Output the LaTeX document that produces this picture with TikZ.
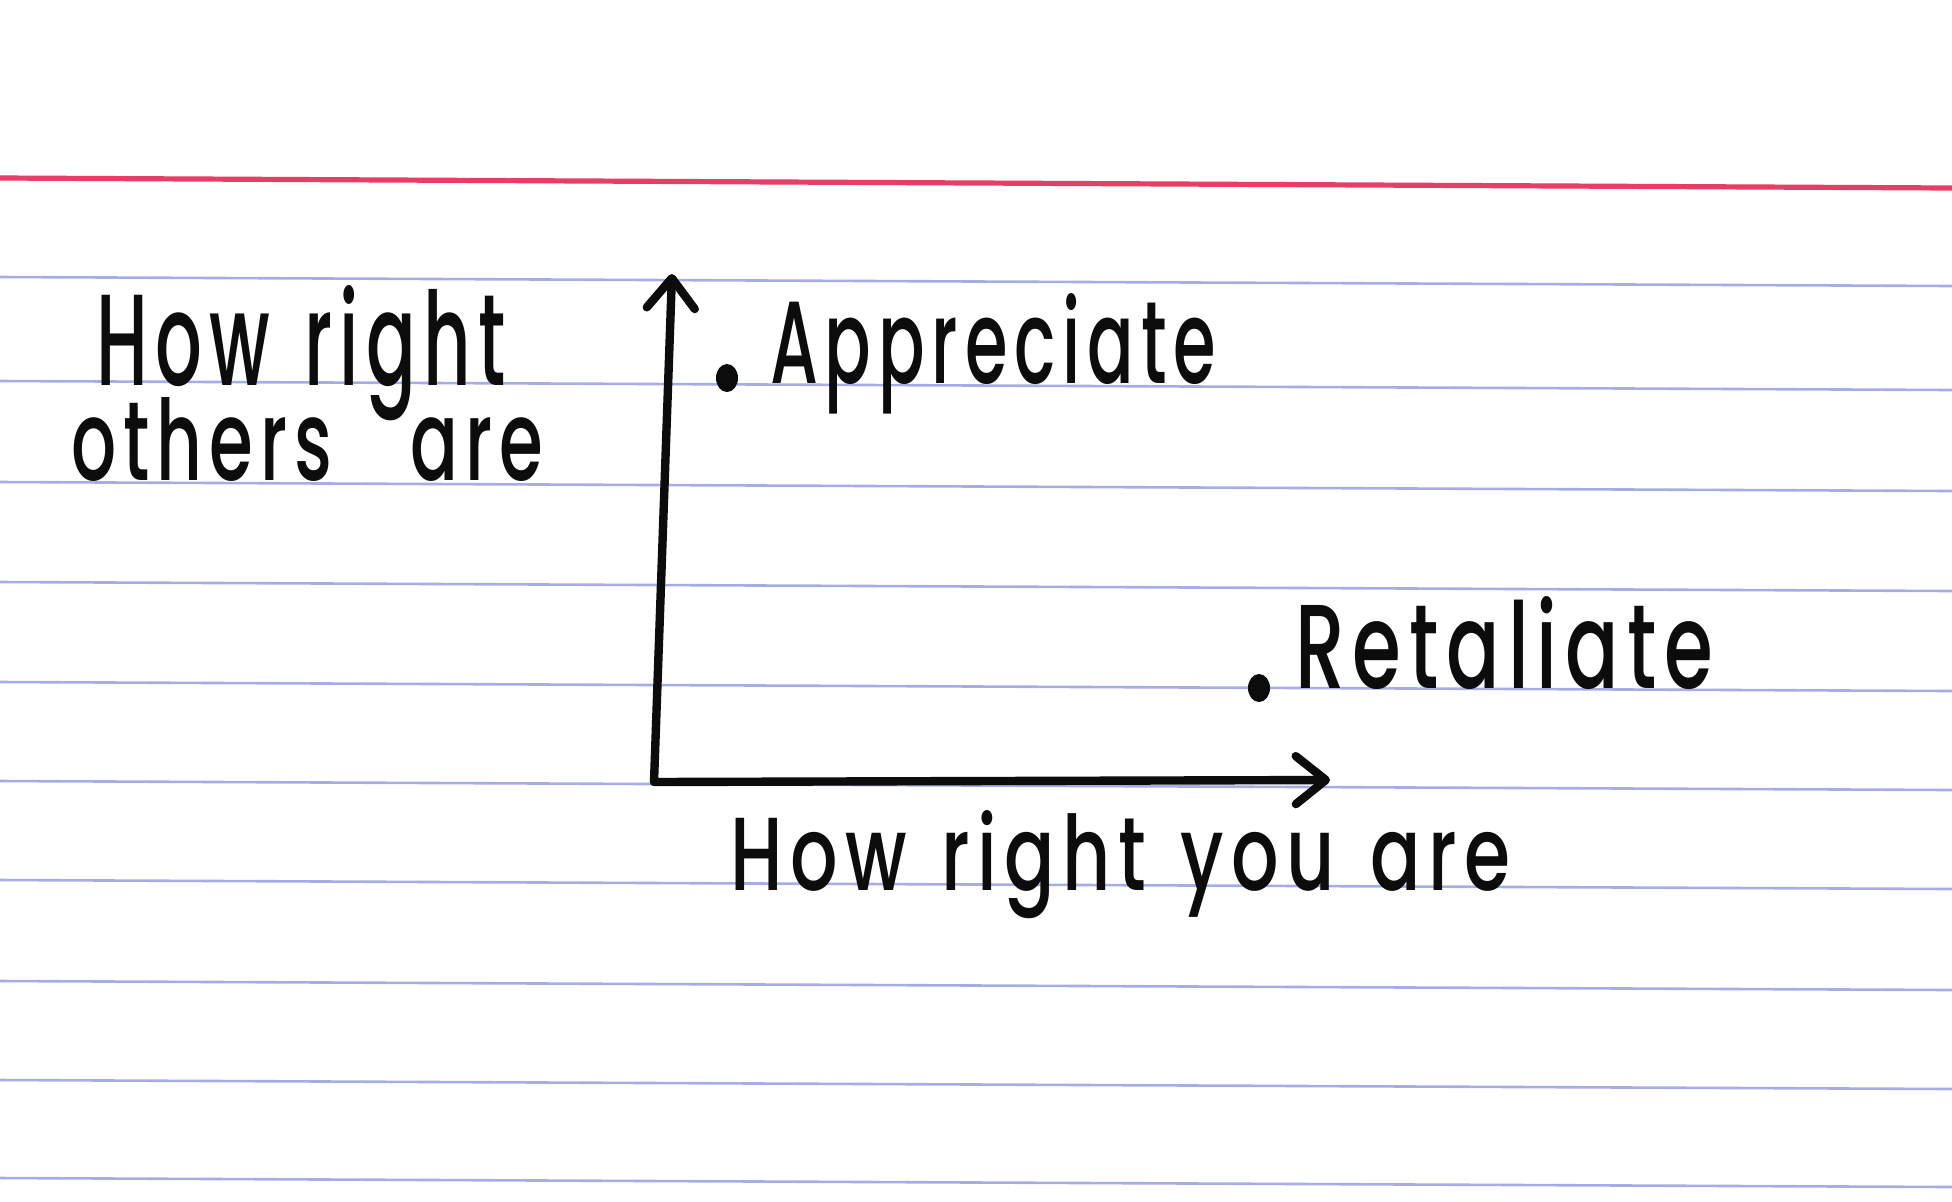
\documentclass[tikz,border=0pt]{standalone}
\usepackage{fontspec}
\setmainfont{Poppins}
\newfontfamily\handfont{Poppins Medium}[LetterSpace=10,WordSpace=1.3]
\usetikzlibrary{arrows.meta,shapes.geometric}
\definecolor{ruleblue}{RGB}{168,172,230}
\definecolor{rulered}{RGB}{230,62,102}
\definecolor{ink}{RGB}{12,12,12}
\newcommand{\hwtext}[3]{\resizebox{#1}{#2}{\handfont #3}}
\tikzset{
  hand/.style={anchor=base west, inner sep=0pt, outer sep=0pt, text=ink},
  axtip/.tip={Straight Barb[length=15pt,width=24pt,round]},
  axisline/.style={draw=ink, line width=4.2pt, line cap=round, line join=round},
  blueline/.style={draw=ruleblue, line width=1.3pt},
  redline/.style={draw=rulered, line width=2.6pt},
  dotmark/.style={ellipse, fill=ink, inner sep=0pt, minimum width=11pt, minimum height=14pt}
}
\begin{document}
\begin{tikzpicture}[x=0.5pt,y=-0.5pt]
  \useasboundingbox (0,0) rectangle (1952,1201);
  \fill[white] (0,0) rectangle (1952,1201);
  % ruled lines
  \draw[redline] (0,178) -- (1952,188);
  \foreach \yy in {277,381,482,582,682,781,880,981,1080,1178}{
    \draw[blueline] (0,\yy) -- (1952,\yy+9);
  }
  % axes
  \coordinate (O) at (654,782);
  \coordinate (Ytop) at (672,274);
  \coordinate (Xend) at (1330,780);
  \draw[axisline, axtip-axtip] (Ytop) -- (O) -- (Xend);
  % points
  \node[dotmark] (dA) at (727,378) {};
  \node[dotmark] (dR) at (1259,688) {};
  % labels
  \node[hand] (appr) at (770,383) {\hwtext{223pt}{45pt}{Appreciate}};
  \node[hand] (reta) at (1295,688) {\hwtext{209pt}{46pt}{Retaliate}};
  \node[hand] (xlab) at (730,890) {\hwtext{390pt}{40pt}{How right you are}};
  \node[hand] (ylab1) at (96,385) {\hwtext{205pt}{50pt}{How right}};
  \node[hand] (ylab2) at (71,480) {\hwtext{236pt}{41.5pt}{others\hspace{1.1em}are}};
\end{tikzpicture}
\end{document}
